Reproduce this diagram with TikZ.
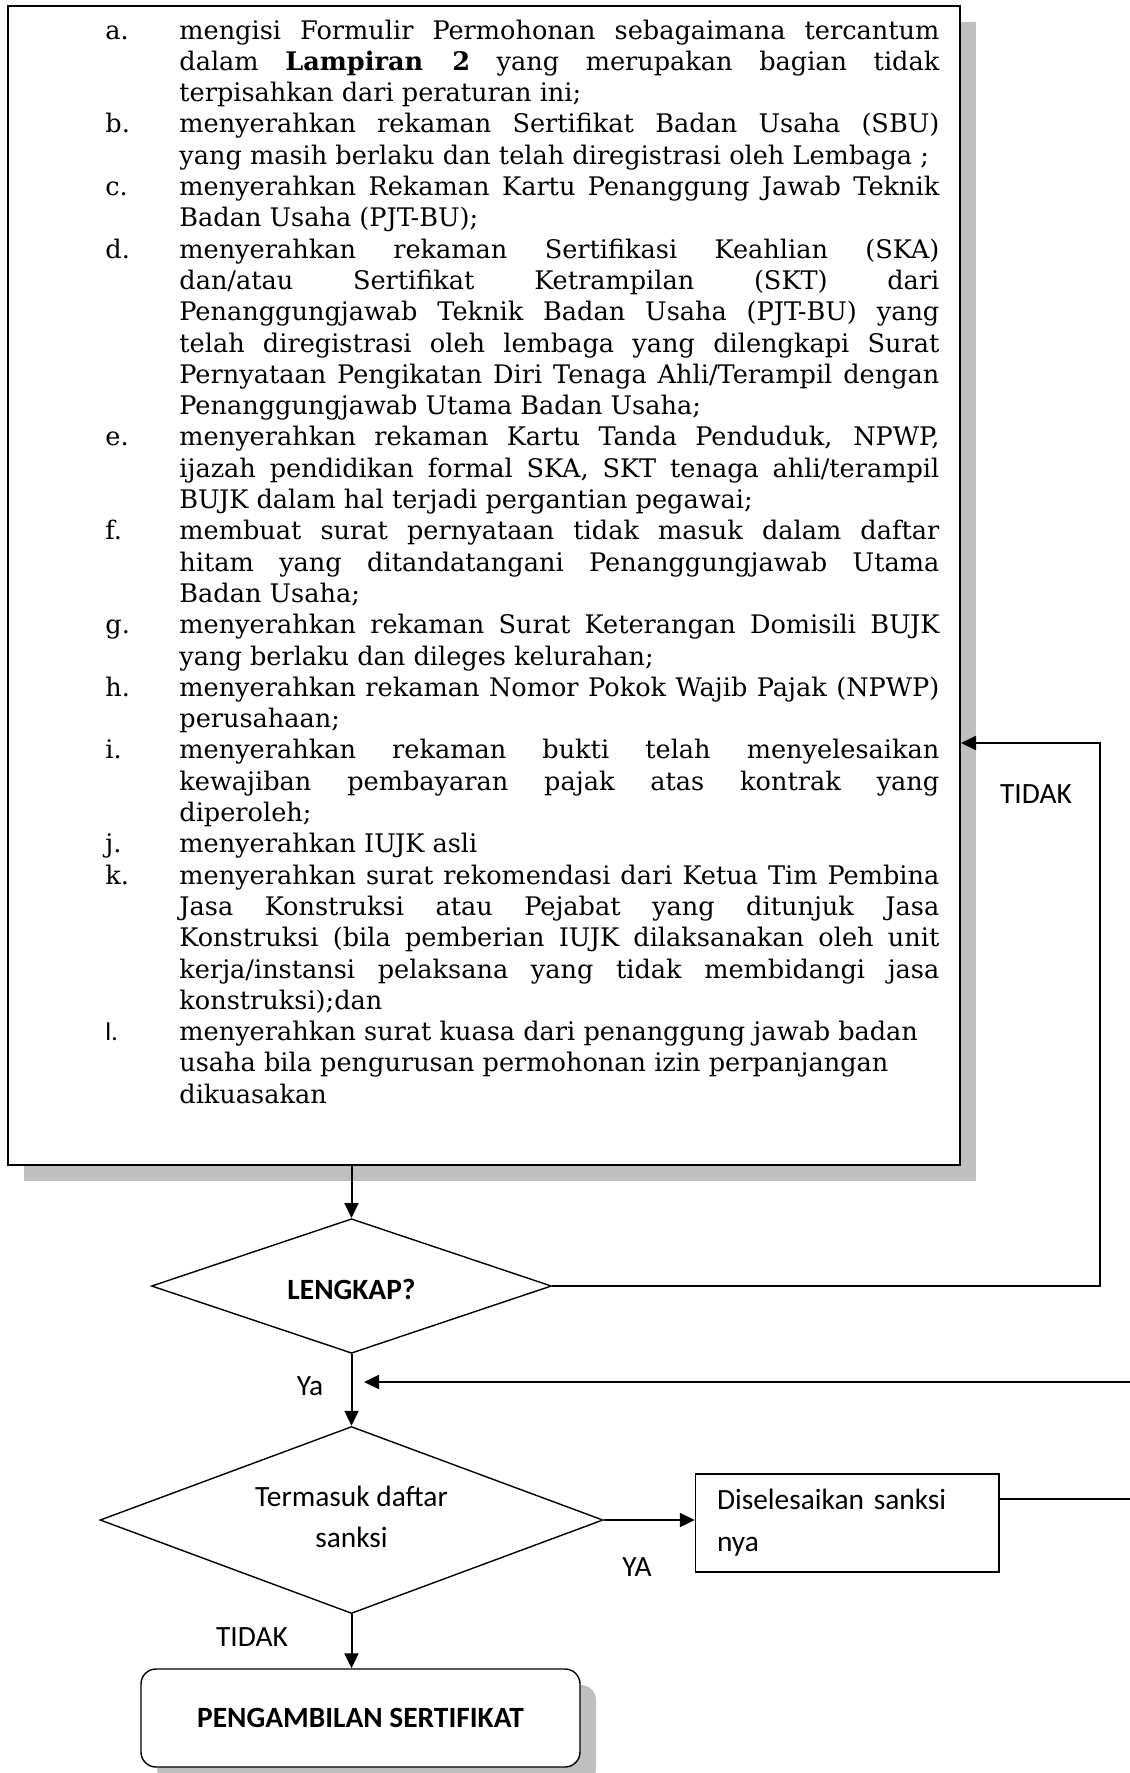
\documentclass[tikz,border=0pt]{standalone}
\usepackage{fontspec}
\setmainfont{DejaVu Serif}
\newfontfamily\calfont{Carlito}
\usetikzlibrary{shapes.geometric,arrows.meta,shadows}
\definecolor{shadowgray}{HTML}{BFBFBF}
\newlength\reflen
\newcommand\jl[2]{\makebox[37pt][l]{#1}\makebox[380pt][s]{#2}\par}
\newcommand\rl[2]{\makebox[37pt][l]{#1}#2\par}
\tikzset{
  sans/.style={font=\calfont\fontsize{14.7pt}{20.5pt}\selectfont},
  mainbox/.style={draw, line width=1pt, fill=white, inner sep=0pt,
    drop shadow={shadow xshift=8pt, shadow yshift=-8pt, fill=shadowgray, opacity=1}},
  decision/.style={diamond, draw, line width=0.7pt, inner sep=0pt, sans},
  procbox/.style={draw, line width=0.7pt, inner xsep=10.75pt, inner ysep=0pt, sans},
  endbox/.style={draw, line width=0.7pt, rounded corners=7.5pt, fill=white, inner sep=0pt, sans,
    drop shadow={shadow xshift=8pt, shadow yshift=-8pt, fill=shadowgray, opacity=1}},
  lbl/.style={inner sep=0pt, sans},
  conn/.style={line width=1pt},
  arr/.style={line width=1pt, -{Triangle[length=7.5pt,width=7pt]}}
}
\begin{document}%
\settowidth\reflen{\fontsize{10pt}{12pt}\selectfont yang masih berlaku dan telah diregistrasi oleh Lembaga ;}%
\pgfmathsetmacro\fsz{10*374.8/\reflen}%
\begin{tikzpicture}[x=0.5pt,y=-0.5pt]
\useasboundingbox (0,0) rectangle (1130,1773);

% main box
\node[mainbox, minimum width=476pt, minimum height=579.5pt] (main) at (484,585.5) {};
\node[anchor=base west, inner sep=0pt] (items) at (105,39) {\parbox[t]{417pt}{%
\fontsize{\fsz pt}{15.65pt}\selectfont\lineskiplimit=-50pt\parskip=0pt\parindent=0pt
\jl{a.}{mengisi Formulir Permohonan sebagaimana tercantum}
\jl{}{dalam \textbf{Lampiran 2} yang merupakan bagian tidak}
\rl{}{terpisahkan dari peraturan ini;}
\jl{b.}{menyerahkan rekaman Sertifikat Badan Usaha (SBU)}
\rl{}{yang masih berlaku dan telah diregistrasi oleh Lembaga ;}
\jl{c.}{menyerahkan Rekaman Kartu Penanggung Jawab Teknik}
\rl{}{Badan Usaha (PJT-BU);}
\jl{d.}{menyerahkan rekaman Sertifikasi Keahlian (SKA)}
\jl{}{dan/atau Sertifikat Ketrampilan (SKT) dari}
\jl{}{Penanggungjawab Teknik Badan Usaha (PJT-BU) yang}
\jl{}{telah diregistrasi oleh lembaga yang dilengkapi Surat}
\jl{}{Pernyataan Pengikatan Diri Tenaga Ahli/Terampil dengan}
\rl{}{Penanggungjawab Utama Badan Usaha;}
\jl{e.}{menyerahkan rekaman Kartu Tanda Penduduk, NPWP,}
\jl{}{ijazah pendidikan formal SKA, SKT tenaga ahli/terampil}
\rl{}{BUJK dalam hal terjadi pergantian pegawai;}
\jl{f.}{membuat surat pernyataan tidak masuk dalam daftar}
\jl{}{hitam yang ditandatangani Penanggungjawab Utama}
\rl{}{Badan Usaha;}
\jl{g.}{menyerahkan rekaman Surat Keterangan Domisili BUJK}
\rl{}{yang berlaku dan dileges kelurahan;}
\jl{h.}{menyerahkan rekaman Nomor Pokok Wajib Pajak (NPWP)}
\rl{}{perusahaan;}
\jl{i.}{menyerahkan rekaman bukti telah menyelesaikan}
\jl{}{kewajiban pembayaran pajak atas kontrak yang}
\rl{}{diperoleh;}
\rl{j.}{menyerahkan IUJK asli}
\jl{k.}{menyerahkan surat rekomendasi dari Ketua Tim Pembina}
\jl{}{Jasa Konstruksi atau Pejabat yang ditunjuk Jasa}
\jl{}{Konstruksi (bila pemberian IUJK dilaksanakan oleh unit}
\jl{}{kerja/instansi pelaksana yang tidak membidangi jasa}
\rl{}{konstruksi);dan}
\rl{\calfont l.}{menyerahkan surat kuasa dari penanggung jawab badan}
\rl{}{usaha bila pengurusan permohonan izin perpanjangan}
\rl{}{dikuasakan}}};

% decisions and boxes
\node[decision, aspect=3, minimum width=200pt, minimum height=67.3pt, text height=13.9pt, text depth=0pt] (d1) at (351.5,1286) {\bfseries LENGKAP?};
\node[decision, aspect=2.69, minimum width=251.5pt, minimum height=93.5pt, align=center] (d2) at (351.5,1520) {Termasuk daftar\\sanksi\rule[-3.4pt]{0pt}{0pt}};
\node[procbox, minimum width=151.75pt, minimum height=49pt, text width=130.25pt, align=left] (dis) at (847.25,1523) {Diselesaikan sanksi\\[0.5pt]nya};
\node[endbox, minimum width=219.5pt, minimum height=49pt] (end) at (360.5,1718) {\bfseries PENGAMBILAN SERTIFIKAT};

% labels
\node[lbl] (ltidak1) at (1036,794) {TIDAK};
\node[lbl] (lya1) at (310,1386) {Ya};
\node[lbl] (lya2) at (637,1567) {YA};
\node[lbl] (ltidak2) at (252,1637) {TIDAK};

% coordinates
\coordinate (tr) at (1100,743);
\coordinate (offA) at (1150,1499);
\coordinate (offB) at (1150,1382);
\coordinate (ret) at (364,1382);

% connectors
\draw[arr] (main.south -| d1.north) -- (d1.north);
\draw[arr] (d1.east) -| (tr) -- (tr -| main.east);
\draw[arr] (d1.south) -- (d2.north);
\draw[arr] (d2.east) -- (d2.east -| dis.west);
\draw[arr] (d2.south) -- (d2.south |- end.north);
\draw[conn] ([yshift=12pt]dis.east) -- (offA);
\draw[arr] (offB) -- (ret);
\end{tikzpicture}
\end{document}
